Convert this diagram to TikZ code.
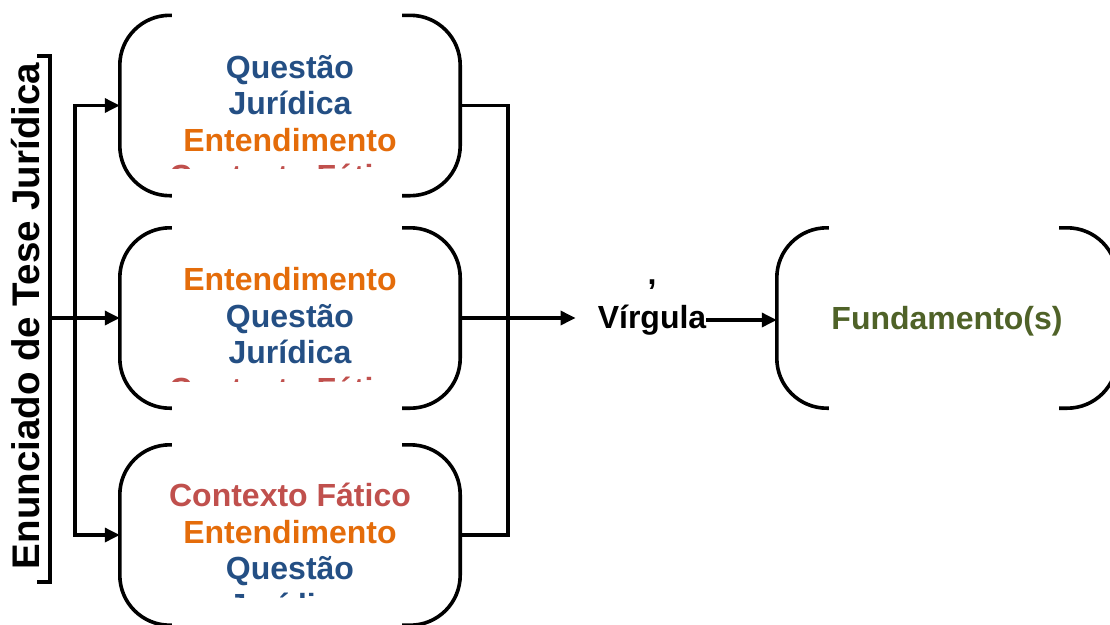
\documentclass[tikz,border=0pt]{standalone}
\usepackage{fontspec}
\setmainfont{Liberation Sans}
\usetikzlibrary{positioning}
\usetikzlibrary{arrows.meta}

\definecolor{qblue}{RGB}{36,79,132}
\definecolor{eorange}{RGB}{228,108,10}
\definecolor{cred}{RGB}{192,80,77}
\definecolor{fgreen}{RGB}{79,98,40}

\tikzset{
	slot/.style={minimum width=340pt, minimum height=180pt, inner sep=0pt},
	arm/.style={line width=3.6pt, rounded corners=50pt},
	conn/.style={line width=3.3pt},
	arr/.style={conn, -{Triangle[length=15pt,width=14pt]}},
	words/.style={align=center, font=\fontsize{32}{36.5}\selectfont\bfseries, inner sep=0pt},
}

\begin{document}
\begin{tikzpicture}[x=1pt, y=-1pt]
			\useasboundingbox (0,0) rectangle (1110,624);
			\node[slot](q1) at (290,105.5){};
			\node[slot](q2) at (290,318){};
			\node[slot](q3) at (290,535){};
			\node[slot](fund) at (947,318){};
			\foreach \b in {q1,q2,q3,fund}{
				\draw[arm] ([xshift=52pt]\b.north west) -| (\b.south west) -- ([xshift=52pt]\b.south west);
				\draw[arm] ([xshift=-58pt]\b.north east) -| (\b.south east) -- ([xshift=-58pt]\b.south east);
			}
			\begin{scope}
				\clip ([yshift=-20pt]q1.north west) rectangle ([yshift=27pt]q1.south east);
				\node[words, yshift=-16pt](q1txt) at (q1){\textcolor{qblue}{Questão}\\\textcolor{qblue}{Jurídica}\\\textcolor{eorange}{Entendimento}\\\textcolor{cred}{Contexto Fático}};
			\end{scope}
			\begin{scope}
				\clip ([yshift=-20pt]q2.north west) rectangle ([yshift=27pt]q2.south east);
				\node[words, yshift=-16pt](q2txt) at (q2){\textcolor{eorange}{Entendimento}\\\textcolor{qblue}{Questão}\\\textcolor{qblue}{Jurídica}\\\textcolor{cred}{Contexto Fático}};
			\end{scope}
			\begin{scope}
				\clip ([yshift=-20pt]q3.north west) rectangle ([yshift=28pt]q3.south east);
				\node[words, yshift=-15pt](q3txt) at (q3){\textcolor{cred}{Contexto Fático}\\\textcolor{eorange}{Entendimento}\\\textcolor{qblue}{Questão}\\\textcolor{qblue}{Jurídica}};
			\end{scope}
			\node[words, text=fgreen, yshift=-3pt](fundtxt) at (fund){Fundamento(s)};
			\node[font=\fontsize{38.5}{42}\selectfont\bfseries, rotate=90, inner sep=0pt](enun) at (26,316){Enunciado de Tese Jurídica};
			\draw[conn] (37,56) -- (50,56) -- (50,582) -- (37,582);
			\coordinate (split) at (50,318);
			\coordinate (fork) at (75,318);
			\coordinate (join) at (508,318);
			\draw[arr] (split) -- (q2.west);
			\draw[conn, {Triangle[length=15pt,width=14pt]}-{Triangle[length=15pt,width=14pt]}] (q1.west) -| (fork) |- (q3.west);
			\draw[conn] (q1.east) -| (join) |- (q3.east);
			\node[words](virg) at (652,320){Vírgula};
			\node[words](comma) at (652,285){,};
			\draw[arr, shorten >=22pt] (q2.east) -- (q2.east -| virg.west);
			\draw[arr] (virg.east) -- (virg.east -| fund.west);
\end{tikzpicture}
\end{document}
